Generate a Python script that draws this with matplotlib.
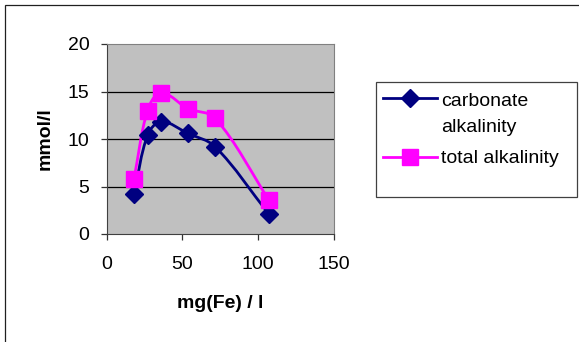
import matplotlib
matplotlib.use("Agg")
import numpy as np
import matplotlib.pyplot as plt
from matplotlib.path import Path
from matplotlib.patches import PathPatch, Rectangle
from matplotlib.lines import Line2D

plt.rcParams['font.family'] = ['Liberation Sans', 'DejaVu Sans']

# iron concentration and measured alkalinities
fe_mg_l = [18, 27, 36, 53.5, 71.5, 107]
carbonate_alk = [4.2, 10.4, 11.8, 10.6, 9.2, 2.1]
total_alk = [5.8, 13.0, 14.8, 13.2, 12.2, 3.6]

x_ticks = [0, 50, 100, 150]
y_ticks = [0, 5, 10, 15, 20]

NAVY = '#000080'
MAGENTA = '#FF00FF'
FS = 14


def smooth_path(ax, xs, ys):
    # bezier through the points, tangents taken in screen space so the
    # curve does not overshoot on uneven spacing
    pts = ax.transData.transform(np.column_stack([xs, ys]))
    n = len(pts)
    verts = [pts[0]]
    codes = [Path.MOVETO]
    for i in range(n - 1):
        p0 = pts[max(i - 1, 0)]
        p1 = pts[i]
        p2 = pts[i + 1]
        p3 = pts[min(i + 2, n - 1)]
        seg = np.hypot(*(p2 - p1)) / 3
        t1 = p2 - p0
        t2 = p3 - p1
        c1 = p1 + t1 / np.hypot(*t1) * seg
        c2 = p2 - t2 / np.hypot(*t2) * seg
        verts += [c1, c2, p2]
        codes += [Path.CURVE4] * 3
    verts = ax.transData.inverted().transform(np.array(verts))
    return Path(verts, codes)


fig = plt.figure(figsize=(5.79, 3.42), dpi=100)
W, H = 579, 342
ax = fig.add_axes([106.7 / W, 1 - 234 / H, (334 - 106.7) / W, (234 - 44) / H])
ax.set_facecolor('#C0C0C0')
ax.set_xlim(0, 150)
ax.set_ylim(0, 20)

for y in y_ticks[1:-1]:
    ax.axhline(y, color='black', lw=0.9, zorder=1)

series = [
    (carbonate_alk, NAVY, 'D', 9.5),
    (total_alk, MAGENTA, 's', 11.5),
]
for vals, col, mk, ms in series:
    ax.add_patch(PathPatch(smooth_path(ax, fe_mg_l, vals), fill=False,
                           edgecolor=col, lw=2, zorder=2))
    ax.plot(fe_mg_l, vals, ls='none', marker=mk, ms=ms, color=col, zorder=3)

ax.set_xticks(x_ticks)
ax.set_yticks(y_ticks)
ax.tick_params(labelsize=FS, length=4.5, width=0.9, color='#333333')
ax.tick_params(axis='x', pad=11)
ax.tick_params(axis='y', pad=8)
for side in ['top', 'right']:
    ax.spines[side].set_color('#808080')
for side in ['left', 'bottom']:
    ax.spines[side].set_color('#404040')

fig.text(220 / W, 1 - 303 / H, 'mg(Fe) / l', ha='center', va='center',
         fontsize=FS, fontweight='bold')
fig.text(45 / W, 1 - 139 / H, 'mmol/l', ha='center', va='center',
         fontsize=FS, fontweight='bold', rotation=90)

# chart frame and legend box
fig.add_artist(Rectangle((5 / W, -0.5), 2, 1.5 - 4.5 / H, transform=fig.transFigure,
                         fill=False, edgecolor='#202020', lw=0.9))
fig.add_artist(Rectangle((375.7 / W, 1 - 196.7 / H), (577 - 375.7) / W, (196.7 - 81.7) / H,
                         transform=fig.transFigure, fill=False, edgecolor='#404040', lw=0.9))

legend_rows = [
    (98, [(106, 'carbonate'), (131.5, 'alkalinity')], NAVY, 'D', 9.5),
    (157, [(163, 'total alkalinity')], MAGENTA, 's', 11.5),
]
for y_handle, lines, col, mk, ms in legend_rows:
    yh = 1 - y_handle / H
    fig.add_artist(Line2D([382.7 / W, 436.7 / W], [yh, yh], transform=fig.transFigure,
                          color=col, lw=2))
    fig.add_artist(Line2D([409.7 / W], [yh], transform=fig.transFigure,
                          color=col, marker=mk, ms=ms, ls='none'))
    for y_base, txt in lines:
        fig.text(441 / W, 1 - y_base / H, txt, ha='left', va='baseline', fontsize=FS)

fig.savefig('out.png', dpi=100)
